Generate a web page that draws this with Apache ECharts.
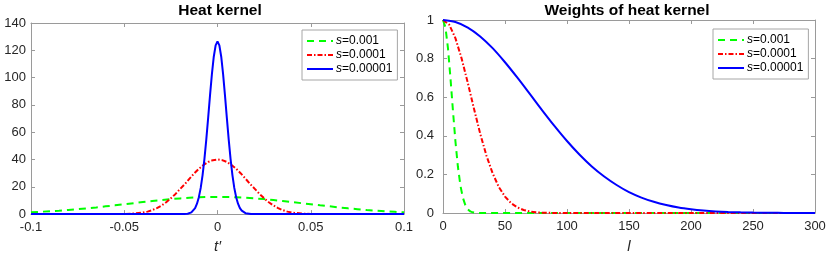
<!DOCTYPE html>
<html>
<head>
<meta charset="utf-8">
<script src="https://cdn.jsdelivr.net/npm/echarts@6/dist/echarts.min.js"></script>
<style>
html,body{margin:0;padding:0;background:#fff;}
#c{width:831px;height:259px;}
</style>
</head>
<body>
<div id="c"></div>
<script>
// ---- Left panel: heat kernel ----
const seriesNames = ['s=0.001', 's=0.0001', 's=0.00001'];
const leftXTicks = [-0.1, -0.05, 0, 0.05, 0.1];
const leftYTicks = [0, 20, 40, 60, 80, 100, 120, 140];

const greenT = [-0.1,-0.095,-0.09,-0.085,-0.08,-0.075,-0.07,-0.065,-0.06,-0.055,-0.05,-0.045,-0.04,-0.035,-0.03,-0.025,-0.02,-0.015,-0.01,-0.005,0,
  0.005,0.01,0.015,0.02,0.025,0.03,0.035,0.04,0.045,0.05,0.055,0.06,0.065,0.07,0.075,0.08,0.085,0.09,0.095,0.1];
const greenK = [1.3,1.7,2.1,2.5,3.0,3.6,4.2,4.9,5.7,6.4,7.2,8.0,8.8,9.6,10.3,11.0,11.5,12.0,12.3,12.5,12.6,
  12.5,12.3,12.0,11.5,11.0,10.3,9.6,8.8,8.0,7.2,6.4,5.7,4.9,4.2,3.6,3.0,2.5,2.1,1.7,1.3];

const redT = [-0.1,-0.08,-0.06,-0.05,-0.045,-0.04,-0.0375,-0.035,-0.0325,-0.03,-0.0275,-0.025,-0.0225,-0.02,-0.0175,-0.015,-0.0125,-0.01,-0.0075,-0.005,-0.0025,0,
  0.0025,0.005,0.0075,0.01,0.0125,0.015,0.0175,0.02,0.0225,0.025,0.0275,0.03,0.0325,0.035,0.0375,0.04,0.045,0.05,0.06,0.08,0.1];
const redK = [0,0,0,0.1,0.4,1.1,1.8,2.9,4.4,6.3,8.7,11.6,14.8,18.5,22.0,26.0,29.8,33.2,36.0,38.2,39.5,40.0,
  39.5,38.2,36.0,33.2,29.8,26.0,22.0,18.5,14.8,11.6,8.7,6.3,4.4,2.9,1.8,1.1,0.4,0.1,0,0,0];

const blueT = [-0.1,-0.05,-0.03,-0.02,-0.018,-0.016,-0.015,-0.014,-0.013,-0.012,-0.011,-0.01,-0.009,-0.008,-0.007,-0.006,-0.005,-0.004,-0.003,-0.002,-0.001,0,
  0.001,0.002,0.003,0.004,0.005,0.006,0.007,0.008,0.009,0.01,0.011,0.012,0.013,0.014,0.015,0.016,0.018,0.02,0.03,0.05,0.1];
const blueK = [0,0,0,0,0.05,0.3,0.7,1.3,2.5,4.4,7.6,12.4,19.2,28.6,40.5,54.8,70.7,87.2,102.6,115.3,123.6,126.5,
  123.6,115.3,102.6,87.2,70.7,54.8,40.5,28.6,19.2,12.4,7.6,4.4,2.5,1.3,0.7,0.3,0.05,0,0,0,0];

// ---- Right panel: weights of heat kernel ----
const rightXTicks = [0, 50, 100, 150, 200, 250, 300];
const rightYTicks = [0, 0.2, 0.4, 0.6, 0.8, 1];

const greenL = [0,2,4,6,8,10,12,14,16,18,20,22,24,26,28,30,50,100,150,200,250,300];
const greenW = [1,0.961,0.854,0.701,0.532,0.373,0.241,0.144,0.080,0.041,0.019,0.0084,0.0034,0.0013,0.0004,0,0,0,0,0,0,0];

const redL = [0,5,10,15,20,25,30,35,40,45,50,55,60,65,70,75,80,90,100,150,200,250,300];
const redW = [1,0.976,0.906,0.801,0.674,0.540,0.411,0.298,0.206,0.135,0.085,0.0505,0.0287,0.0155,0.0079,0.0039,0.0018,0.0003,0,0,0,0,0];

const blueL = [0,10,20,30,40,50,60,70,80,90,100,110,120,130,140,150,160,170,180,190,200,210,220,230,240,250,260,270,280,290,300];
const blueW = [1,0.990,0.961,0.915,0.854,0.781,0.701,0.617,0.532,0.450,0.373,0.303,0.241,0.189,0.145,0.108,0.080,0.058,0.041,0.028,0.0193,0.0129,0.0084,0.0054,0.0034,0.0021,0.0013,0.0008,0.0004,0.0003,0.0002];

const colors = ['#00ff00', '#ff0000', '#0000ff'];
const dashTypes = [[7, 5], [5, 2, 1.5, 2], 'solid'];

function pairs(xs, ys) { return xs.map((x, i) => [x, ys[i]]); }

const FONT = '"Liberation Sans", Arial, Helvetica, sans-serif';
const axisGray = '#9a9a9a';
const labelColor = '#262626';

function baseAxis(idx, min, max, interval, position) {
  return {
    type: 'value', gridIndex: idx, min: min, max: max, interval: interval,
    position: position,
    axisLine: { show: true, onZero: false, lineStyle: { color: axisGray, width: 1 } },
    axisTick: { show: true, inside: true, length: 4, lineStyle: { color: axisGray } },
    splitLine: { show: false }
  };
}
function mainX(idx, min, max, interval, name, gap) {
  return Object.assign(baseAxis(idx, min, max, interval, 'bottom'), {
    axisLabel: { color: labelColor, fontSize: 13, fontFamily: FONT, margin: 7,
      formatter: v => String(Math.round(v * 1000) / 1000) },
    name: name, nameLocation: 'middle', nameGap: gap,
    nameTextStyle: { fontStyle: 'italic', fontSize: 15, color: labelColor, fontFamily: FONT }
  });
}
function topX(idx, min, max, interval) {
  return Object.assign(baseAxis(idx, min, max, interval, 'top'), { axisLabel: { show: false } });
}
function mainY(idx, min, max, interval, margin) {
  return Object.assign(baseAxis(idx, min, max, interval, 'left'), {
    axisLabel: { color: labelColor, fontSize: 13, fontFamily: FONT, margin: margin,
      formatter: v => String(Math.round(v * 1000) / 1000) }
  });
}
function rightY(idx, min, max, interval) {
  return Object.assign(baseAxis(idx, min, max, interval, 'right'), { axisLabel: { show: false } });
}

function lineSeries(name, xi, yi, data, k) {
  return {
    name: name, type: 'line', xAxisIndex: xi, yAxisIndex: yi, data: data,
    showSymbol: false, symbol: 'none', animation: false, clip: true,
    lineStyle: { color: colors[k], width: 2, type: dashTypes[k] },
    itemStyle: { color: colors[k] }
  };
}

const legendFormatter = n => '{i|s}' + n.slice(1);
function legendAt(left, top) {
  return {
    data: seriesNames, orient: 'vertical', left: left, top: top,
    itemWidth: 26, itemHeight: 12, itemGap: 2, padding: [5, 5, 5, 4],
    borderColor: '#a6a6a6', borderWidth: 1, backgroundColor: '#fff',
    selectedMode: false, formatter: legendFormatter,
    itemStyle: { opacity: 0, borderWidth: 0 },
    textStyle: { fontSize: 12, color: '#000', fontFamily: FONT, padding: [0, 0, 0, -2],
      rich: { i: { fontStyle: 'italic', fontSize: 12, fontFamily: FONT, color: '#000' } } }
  };
}

const chart = echarts.init(document.getElementById('c'), null, { renderer: 'canvas' });
chart.setOption({
  animation: false,
  backgroundColor: '#fff',
  grid: [
    { left: 31, top: 23, width: 373, height: 195, containLabel: false },
    { left: 443, top: 20, width: 372, height: 197, containLabel: false }
  ],
  xAxis: [
    mainX(0, leftXTicks[0], leftXTicks[leftXTicks.length - 1], 0.05, 't\u2032', 24),
    topX(0, leftXTicks[0], leftXTicks[leftXTicks.length - 1], 0.05),
    mainX(1, rightXTicks[0], rightXTicks[rightXTicks.length - 1], 50, 'l', 26),
    topX(1, rightXTicks[0], rightXTicks[rightXTicks.length - 1], 50)
  ],
  yAxis: [
    mainY(0, leftYTicks[0], leftYTicks[leftYTicks.length - 1], 20, 5),
    rightY(0, leftYTicks[0], leftYTicks[leftYTicks.length - 1], 20),
    mainY(1, rightYTicks[0], rightYTicks[rightYTicks.length - 1], 0.2, 9),
    rightY(1, rightYTicks[0], rightYTicks[rightYTicks.length - 1], 0.2)
  ],
  legend: [legendAt(302, 30), legendAt(713, 29)],
  graphic: [
    { type: 'text', x: 220, y: 11, style: { text: 'Heat kernel', font: 'bold 15.5px ' + FONT, fill: '#000', textAlign: 'center', textVerticalAlign: 'middle' } },
    { type: 'text', x: 627, y: 11, style: { text: 'Weights of heat kernel', font: 'bold 15.5px ' + FONT, fill: '#000', textAlign: 'center', textVerticalAlign: 'middle' } }
  ],
  series: [
    lineSeries(seriesNames[0], 0, 0, pairs(greenT, greenK), 0),
    lineSeries(seriesNames[1], 0, 0, pairs(redT, redK), 1),
    lineSeries(seriesNames[2], 0, 0, pairs(blueT, blueK), 2),
    lineSeries(seriesNames[0], 2, 2, pairs(greenL, greenW), 0),
    lineSeries(seriesNames[1], 2, 2, pairs(redL, redW), 1),
    Object.assign(lineSeries(seriesNames[2], 2, 2, pairs(blueL, blueW), 2), { smooth: 0.3 })
  ]
});
</script>
</body>
</html>
